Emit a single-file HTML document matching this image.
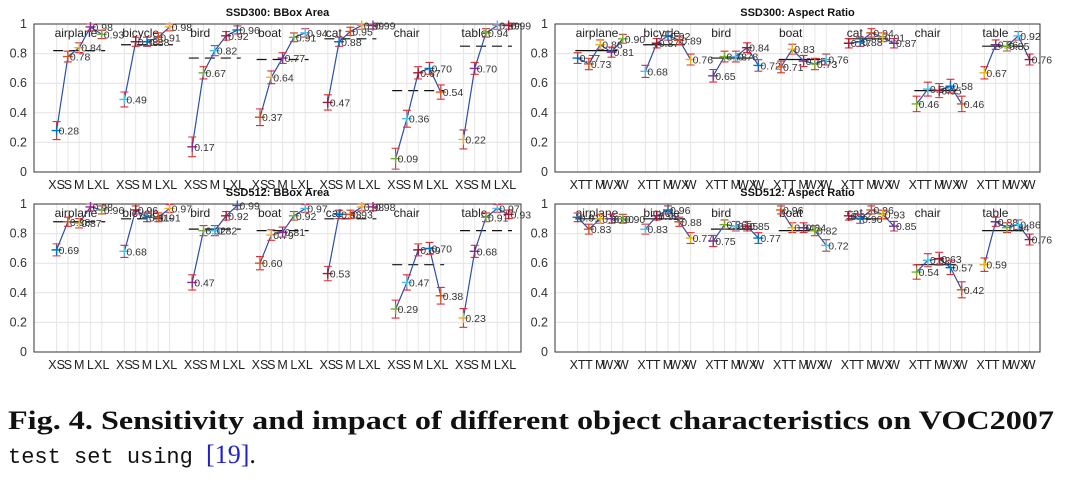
<!DOCTYPE html>
<html><head><meta charset="utf-8">
<style>
body{margin:0;background:#fff;width:1065px;height:489px;overflow:hidden}
svg{display:block}
#chart text{font-family:"Liberation Sans",sans-serif}
</style></head>
<body>
<svg id="chart" width="1065" height="489" xmlns="http://www.w3.org/2000/svg"></svg>
<script>
const categories = ["airplane","bicycle","bird","boat","cat","chair","table"];
const areaTicks = ["XS","S","M","L","XL"];
const aspectTicks = ["XT","T","M","WX","W"];
const yTicks = [0,0.2,0.4,0.6,0.8,1];
const ssd300Area = [[.28,.78,.84,.98,.93],[.49,.88,.88,.91,.98],[.17,.67,.82,.92,.96],[.37,.64,.77,.91,.94],[.47,.88,.95,.99,.99],[.09,.36,.67,.70,.54],[.22,.70,.94,.99,.99]];
const ssd300AreaAvg = [.82,.86,.77,.76,.90,.55,.85];
const ssd512Area = [[.69,.88,.87,.98,.96],[.68,.96,.91,.91,.97],[.47,.82,.82,.92,.99],[.60,.79,.81,.92,.97],[.53,.93,.93,.98,.98],[.29,.47,.69,.70,.38],[.23,.68,.91,.97,.93]];
const ssd512AreaAvg = [.88,.90,.83,.82,.90,.59,.82];
const ssd300Aspect = [[.77,.73,.86,.81,.90],[.68,.87,.92,.89,.76],[.65,.78,.78,.84,.72],[.71,.83,.75,.73,.76],[.87,.88,.94,.91,.87],[.46,.56,.55,.58,.46],[.67,.86,.85,.92,.76]];
const ssd300AspectAvg = [.82,.86,.77,.76,.90,.55,.85];
const ssd512Aspect = [[.91,.83,.90,.90,.90],[.83,.92,.96,.88,.77],[.75,.86,.85,.85,.77],[.96,.84,.84,.82,.72],[.92,.90,.96,.93,.85],[.54,.62,.63,.57,.42],[.59,.88,.84,.86,.76]];
const ssd512AspectAvg = [.90,.90,.83,.82,.90,.59,.82];

const NS="http://www.w3.org/2000/svg";
const svg=document.getElementById('chart');
function mk(tag,attrs,parent){const e=document.createElementNS(NS,tag);for(const k in attrs)e.setAttribute(k,attrs[k]);(parent||svg).appendChild(e);return e;}
const colors=["#0072BD","#D95319","#EDB120","#7E2F8E","#77AC30","#4DBEEE","#A2142F"];
const panels=[
 {name:"ssd300-bbox-area",title:"SSD300: BBox Area",left:34,top:24,bottom:172,width:487,data:ssd300Area,avg:ssd300AreaAvg,ticks:areaTicks,dashed:true},
 {name:"ssd512-bbox-area",title:"SSD512: BBox Area",left:34,top:204,bottom:352,width:487,data:ssd512Area,avg:ssd512AreaAvg,ticks:areaTicks,dashed:true},
 {name:"ssd300-aspect-ratio",title:"SSD300: Aspect Ratio",left:555,top:24,bottom:172,width:485,data:ssd300Aspect,avg:ssd300AspectAvg,ticks:aspectTicks,dashed:false},
 {name:"ssd512-aspect-ratio",title:"SSD512: Aspect Ratio",left:555,top:204,bottom:352,width:485,data:ssd512Aspect,avg:ssd512AspectAvg,ticks:aspectTicks,dashed:false}
];
panels.forEach(p=>{
 const g=mk('g',{});
 
 
 const step=11.3;
 const xs=i=>p.left+(i+2)*step;
 const ys=v=>p.bottom-(p.bottom-p.top)*v;
 const t=mk('text',{x:p.left+p.width/2,y:p.top-8,'text-anchor':'middle','font-size':11,'font-weight':'bold',fill:'#111'},g);
 t.textContent=p.title;
 
 
 yTicks.forEach(v=>{
  const l=mk('line',{x1:p.left,x2:p.left+p.width,y1:ys(v),y2:ys(v),stroke:'#e2e2e2','stroke-width':1},g);
  
  
  const tl=mk('text',{x:p.left-7,y:ys(v)+4,'text-anchor':'end','font-size':12.5,fill:'#333'},g);
  tl.textContent=String(v===0?0:v===1?1:v.toFixed(1));
  
  
 });
 categories.forEach((c,gi)=>{
  p.ticks.forEach((tk,ti)=>{
   const x=xs(gi*6+ti);
   const l=mk('line',{x1:x,x2:x,y1:p.top,y2:p.bottom,stroke:'#e6e6e6','stroke-width':1},g);
   
   
   const tl=mk('text',{x:x,y:p.bottom+17,'text-anchor':'middle','font-size':12.5,fill:'#222'},g);
   tl.textContent=tk;
   
   
  });
 });
 const box=mk('rect',{x:p.left,y:p.top,width:p.width,height:p.bottom-p.top,fill:'none',stroke:'#333','stroke-width':1},g);
 
 
 categories.forEach((c,gi)=>{
  const x0=xs(gi*6);
  const cl=mk('text',{x:x0-2,y:ys(0.94)+4,'font-size':12,fill:'#222'},g);
  cl.textContent=c;
  
  
  const av=p.avg[gi];
  const al=mk('line',{x1:p.dashed?x0-0.3*step:x0-0.2*step,x2:p.dashed?xs(gi*6+4)+0.3*step:xs(gi*6+3)+0.5*step,y1:ys(av),y2:ys(av),stroke:'#111','stroke-width':1.2},g);
  if(p.dashed)al.setAttribute('stroke-dasharray','10,6');
  
  
  const vals=p.data[gi];
  const pts=vals.map((v,i)=>xs(gi*6+i)+','+ys(v)).join(' ');
  const pl=mk('polyline',{points:pts,fill:'none',stroke:'#2a4fa8','stroke-width':1.2},g);
  
  
  vals.forEach((v,i)=>{
   const x=xs(gi*6+i), y=ys(v);
   const e=0.025+0.05*(1-v);
   const top=ys(Math.min(1,v+e)), bot=ys(v-e);
   const eb=mk('path',{d:`M${x},${top}V${bot}M${x-4},${top}H${x+4}M${x-4},${bot}H${x+4}`,stroke:'#d8303a','stroke-width':1.1,fill:'none'},g);
   
   
   const col=colors[(gi*5+i)%7];
   const mkr=mk('path',{d:`M${x-5},${y}H${x+5}M${x},${y-5}V${y+5}`,stroke:col,'stroke-width':1.4},g);
   
   
   const lb=mk('text',{x:x+2,y:y+4,'font-size':10.5,fill:'#333'},g);
   lb.textContent=v.toFixed(2);
   
   
  });
 });
});
</script>
<svg width="1065" height="110" style="position:absolute;left:0;top:379px" xmlns="http://www.w3.org/2000/svg">
<text x="8" y="50" style="font-family:'Liberation Serif',serif;font-weight:bold;font-size:26px" textLength="1046" lengthAdjust="spacingAndGlyphs" fill="#111">Fig. 4. Sensitivity and impact of different object characteristics on VOC2007</text>
<text x="8" y="84" style="font-family:'Liberation Serif',serif;font-size:26px" fill="#111"><tspan style="font-family:'Liberation Mono',monospace;font-size:22px">test set using </tspan><tspan fill="#2020d0">[19]</tspan>.</text>
</svg>
</body></html>
